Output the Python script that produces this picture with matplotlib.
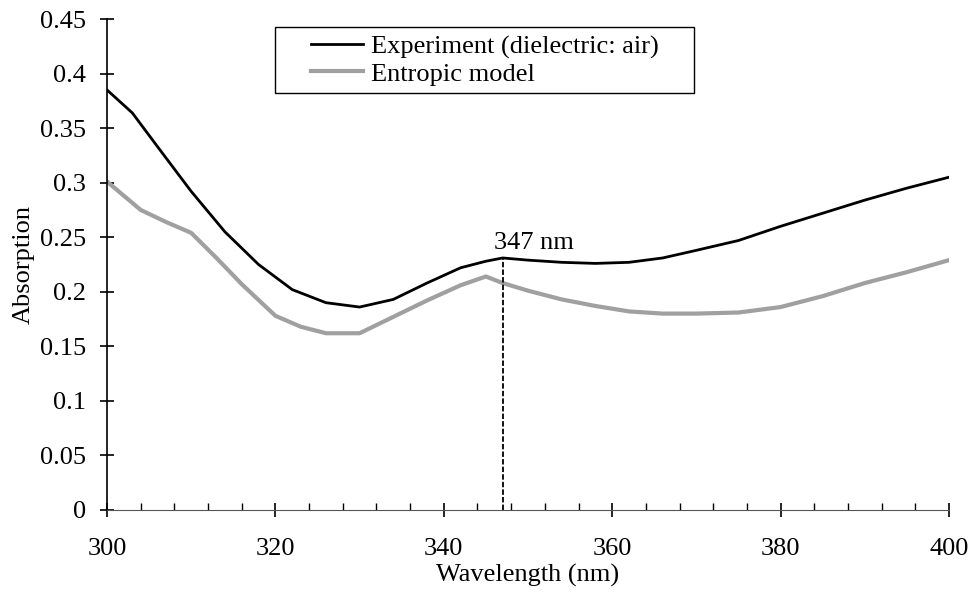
import matplotlib
matplotlib.use("Agg")
import matplotlib.pyplot as plt
from matplotlib.ticker import MultipleLocator
from matplotlib.patches import Rectangle
from matplotlib.legend_handler import HandlerLine2D

wl_exp = [300, 303, 306, 310, 314, 318, 322, 326, 330, 334, 338, 342, 345, 347, 350, 354, 358, 362, 366, 370, 375, 380, 385, 390, 395, 400]
abs_exp = [0.385, 0.364, 0.333, 0.292, 0.255, 0.225, 0.202, 0.190, 0.186, 0.193, 0.208, 0.222, 0.228, 0.231, 0.229, 0.227, 0.226, 0.227, 0.231, 0.238, 0.247, 0.260, 0.272, 0.284, 0.295, 0.305]

wl_mod = [300, 304, 307, 310, 313, 316, 320, 323, 326, 330, 334, 338, 342, 345, 347, 350, 354, 358, 362, 366, 370, 375, 380, 385, 390, 395, 400]
abs_mod = [0.301, 0.275, 0.264, 0.254, 0.231, 0.207, 0.178, 0.168, 0.162, 0.162, 0.177, 0.192, 0.206, 0.214, 0.208, 0.201, 0.193, 0.187, 0.182, 0.180, 0.180, 0.181, 0.186, 0.196, 0.208, 0.218, 0.229]

peak_wl = 347
peak_label = "347 nm"

plt.rcParams['font.family'] = ['Liberation Serif', 'DejaVu Serif']
FS = 19

W, H = 973, 592
fig = plt.figure(figsize=(W / 100, H / 100), dpi=100)
ax_l, ax_r, ax_t, ax_b = 107, 949, 19, 510
ax = fig.add_axes([ax_l / W, (H - ax_b) / H, (ax_r - ax_l) / W, (ax_b - ax_t) / H])

ax.plot(wl_exp, abs_exp, color='black', lw=2.0, label='Experiment (dielectric: air)')
ax.plot(wl_mod, abs_mod, color='#a0a0a0', lw=3.0, label='Entropic model')

peak_y = abs_exp[wl_exp.index(peak_wl)]
ax.plot([peak_wl, peak_wl], [0, peak_y], color='black', lw=1.3, ls=(0, (3, 1.2)))
ax.text(peak_wl - 1.0, peak_y + 0.008, peak_label, fontsize=FS, ha='left', va='baseline')

ax.set_xlim(300, 400)
ax.set_ylim(0, 0.45)
ax.xaxis.set_major_locator(MultipleLocator(20))
ax.xaxis.set_minor_locator(MultipleLocator(4))
ax.set_yticks([0, 0.05, 0.1, 0.15, 0.2, 0.25, 0.3, 0.35, 0.4, 0.45])
ax.set_yticklabels(['0', '0.05', '0.1', '0.15', '0.2', '0.25', '0.3', '0.35', '0.4', '0.45'])

for s in ['top', 'right']:
    ax.spines[s].set_visible(False)
ax.spines['left'].set_color('black')
ax.spines['left'].set_linewidth(1.2)
ax.spines['bottom'].set_color('#555555')
ax.tick_params(axis='both', which='major', direction='inout', length=10, width=1.2, labelsize=FS)
ax.tick_params(axis='y', which='major', pad=10)
ax.tick_params(axis='x', which='major', pad=15)
ax.tick_params(axis='x', which='minor', direction='in', length=5, width=1)

ax.set_xlabel('Wavelength (nm)', fontsize=FS, labelpad=3)
ax.set_ylabel('Absorption', fontsize=FS, labelpad=4)


class ShortHandler(HandlerLine2D):
    def get_xdata(self, legend, xdescent, ydescent, width, height, fontsize):
        return [-xdescent + width * 0.40, -xdescent + width], [-xdescent + width * 0.40, -xdescent + width]


# legend box
box_l, box_r, box_t, box_b = 275, 694, 27, 93
fig.patches.append(Rectangle((box_l / W, 1 - box_b / H), (box_r - box_l) / W, (box_b - box_t) / H,
                             transform=fig.transFigure, facecolor='white', edgecolor='black',
                             lw=1.0, zorder=5))
handles, labels = ax.get_legend_handles_labels()
leg = fig.legend(handles, labels, loc='upper left', bbox_to_anchor=(276 / W, 1 - 35 / H),
                 fontsize=FS, frameon=False, handlelength=3.3, borderpad=0.0,
                 labelspacing=0.12, handletextpad=0.3, borderaxespad=0,
                 handler_map={h: ShortHandler() for h in handles})
leg.set_zorder(6)

fig.savefig('out.png', dpi=100, facecolor='white')
